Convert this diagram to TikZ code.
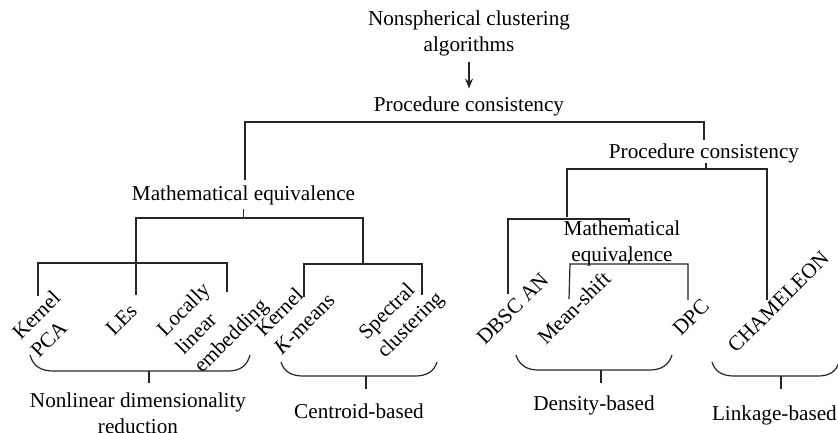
\documentclass[tikz,border=0pt]{standalone}
\usepackage{fontspec}
\setmainfont{Liberation Serif}
\usetikzlibrary{arrows.meta}
\begin{document}
\begin{tikzpicture}[x=1pt,y=-1pt,
  txt/.style={inner sep=0pt, font=\fontsize{21.2}{26}\selectfont, text=black},
  rot/.style={txt, rotate=45, align=left, anchor=base west},
  ln/.style={line width=1.2pt, draw=black!85},
  arr/.style={ln, -{Stealth[length=10pt,width=8pt]}}
  ]
\useasboundingbox (0,0) rectangle (838,432);
% top
\node[txt, anchor=north, align=center] (title) at (469,10.5) {Nonspherical clustering\\algorithms};
\node[txt, anchor=base] (pc1) at (469,111) {Procedure consistency};
\draw[arr, shorten <=6pt, shorten >=7.5pt] (title.south) -- (pc1.north);
\node[txt, anchor=base] (pc2) at (704,158) {Procedure consistency};
\node[txt, anchor=base] (me1) at (243.5,200) {Mathematical equivalence};
\node[txt, anchor=north, align=center] (me2) at (622,220.5) {Mathematical\\equivalence};
% leaves (anchor = baseline start of the last line)
\node[rot] (kpca) at (39,359) {Kernel\\PCA};
\node[rot] (les) at (114,337) {LEs};
\node[rot] (lle) at (202,374) {Locally\\linear\\embedding};
\node[rot] (kkm) at (282,356) {Kernel\\\textit{K}-means};
\node[rot] (sc) at (385,359) {Spectral\\clustering};
\node[rot] (dbscan) at (485,346) {DBSC AN};
\node[rot] (ms) at (546,346) {Mean-shift};
\node[rot] (dpc) at (681,337) {DPC};
\node[rot] (cham) at (736,354) {CHAMELEON};
% group labels
\node[txt, anchor=north, align=center] (nldr) at (138,392.5) {Nonlinear dimensionality\\reduction};
\node[txt, anchor=base] (cb) at (359,418) {Centroid-based};
\node[txt, anchor=base] (db) at (594,410) {Density-based};
\node[txt, anchor=base east] (lb) at (837,420) {Linkage-based};
% tree bars
\draw[ln] (245,180) -- (245,122) -- (704,122) -- (704,140);
\draw[ln] (243.5,209) -- (243.5,218);
\draw[ln] (136,295) -- (136,218) -- (363,218) -- (363,264);
\draw[ln] (38,296) -- (38,263) -- (227,263) -- (227,292);
\draw[ln] (304,297) -- (304,264) -- (422,264) -- (422,295);
\draw[ln] (706,163) -- (706,169);
\draw[ln] (567,217) -- (567,169) -- (767,169) -- (767,300);
\draw[ln] (508,294) -- (508,219) -- (629,219) -- (629,222);
\draw[ln] (629,260) -- (629,264);
\draw[ln] (569,299) -- (570,264) -- (688,264) -- (688,300);
% braces
\draw[ln] (30,355) .. controls (33,366) and (41,371) .. (53,371) -- (228,371) .. controls (240,371) and (247,366) .. (250,355);
\draw[ln] (149,371) -- (149,383);
\draw[ln] (281,362) .. controls (284,372) and (292,376) .. (303,376) -- (415,376) .. controls (426,376) and (434,372) .. (437,362);
\draw[ln] (366,376) -- (366,389);
\draw[ln] (516,355) .. controls (519,365) and (527,370) .. (538,370) -- (650,370) .. controls (661,370) and (669,365) .. (672,355);
\draw[ln] (601,370) -- (601,383);
\draw[ln] (712,362) .. controls (715,372) and (723,376) .. (734,376) -- (818,376) .. controls (829,376) and (836,372) .. (839,362);
\draw[ln] (781,376) -- (781,389);
\end{tikzpicture}
\end{document}
